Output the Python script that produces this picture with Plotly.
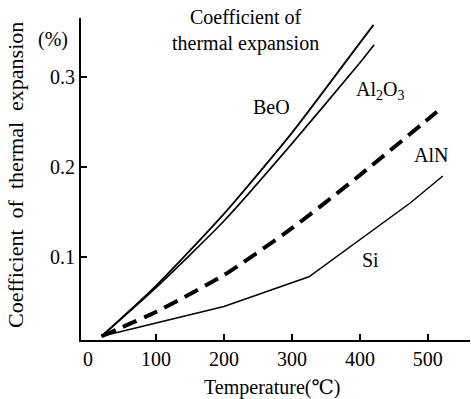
import plotly.graph_objects as go

temp_beo = [20, 100, 200, 300, 400, 420]
beo = [0.012, 0.068, 0.148, 0.238, 0.338, 0.358]

temp_al2o3 = [20, 100, 200, 300, 400, 421]
al2o3 = [0.012, 0.066, 0.140, 0.226, 0.316, 0.336]

temp_aln = [20, 100, 200, 300, 400, 500, 522]
aln = [0.012, 0.039, 0.080, 0.132, 0.191, 0.253, 0.267]

temp_si = [20, 100, 200, 325, 400, 474, 522]
si = [0.012, 0.027, 0.045, 0.078, 0.119, 0.160, 0.190]

x_ticks = [100, 200, 300, 400, 500]
x_origin_label = "0"   # drawn without a tick mark, as in the reference
y_ticks = [0.1, 0.2, 0.3]
y_ticktext = ["0.1", "0.2", "0.3"]

FONT = "'Liberation Serif', 'Times New Roman', 'DejaVu Serif', serif"
NB = "\u00a0"

fig = go.Figure()
fig.add_trace(go.Scatter(x=temp_beo, y=beo, mode="lines", name="BeO",
                         line=dict(color="black", width=1.8, shape="spline", smoothing=0.6)))
fig.add_trace(go.Scatter(x=temp_al2o3, y=al2o3, mode="lines", name="Al2O3",
                         line=dict(color="black", width=1.6, shape="spline", smoothing=0.6)))
fig.add_trace(go.Scatter(x=temp_aln, y=aln, mode="lines", name="AlN",
                         line=dict(color="black", width=4, dash="15px,8px", shape="spline", smoothing=0.6)))
fig.add_trace(go.Scatter(x=temp_si, y=si, mode="lines", name="Si",
                         line=dict(color="black", width=1.5)))

ytitle = f"Coefficient{NB}{NB}of{NB}{NB}thermal{NB}{NB}expansion"

ann = [
    dict(x=270, y=0.2667, text="BeO", xref="x", yref="y"),
    dict(x=429, y=0.2856, text="Al<sub>2</sub>O<sub>3</sub>", xref="x", yref="y"),
    dict(x=504, y=0.213, text="AlN", xref="x", yref="y"),
    dict(x=415, y=0.0967, text="Si", xref="x", yref="y"),
    dict(x=0.4216, y=0.9627, text="Coefficient of<br>thermal expansion", xref="paper", yref="paper"),
    dict(x=-0.072, y=0.932, text="(%)", xref="paper", yref="paper"),
    dict(x=-0.1697, y=0.5124, text=ytitle, xref="paper", yref="paper",
         textangle=-90, font=dict(family=FONT, size=22, color="black")),
    dict(x=0.491, y=-0.148, text="Temperature(℃)", xref="paper", yref="paper"),
    dict(x=0, y=-0.058, text=x_origin_label, xref="x", yref="paper"),
]
for a in ann:
    a.setdefault("font", dict(family=FONT, size=20, color="black"))
    a.update(showarrow=False, xanchor="center", yanchor="middle")
    fig.add_annotation(**a)

fig.update_layout(
    width=471, height=399,
    margin=dict(l=81, r=1, t=18, b=59),
    plot_bgcolor="white", paper_bgcolor="white",
    showlegend=False,
    font=dict(family=FONT, size=20, color="black"),
    xaxis=dict(range=[-10.3, 562], tickvals=x_ticks, ticks="inside", ticklen=6,
               tickwidth=1.5, tickcolor="black",
               showline=True, linecolor="black",
               linewidth=2, showgrid=False, zeroline=False,
               tickfont=dict(family=FONT, size=20, color="black")),
    yaxis=dict(range=[0.0078, 0.3656], tickvals=y_ticks, ticktext=y_ticktext,
               ticks="inside", ticklen=6, tickwidth=1.5, tickcolor="black",
               showline=True, linecolor="black", linewidth=2, showgrid=False,
               zeroline=False, tickfont=dict(family=FONT, size=20, color="black")),
)

fig.write_html("out.html", config={"displayModeBar": False},
               post_script="document.body.style.margin='0';")
